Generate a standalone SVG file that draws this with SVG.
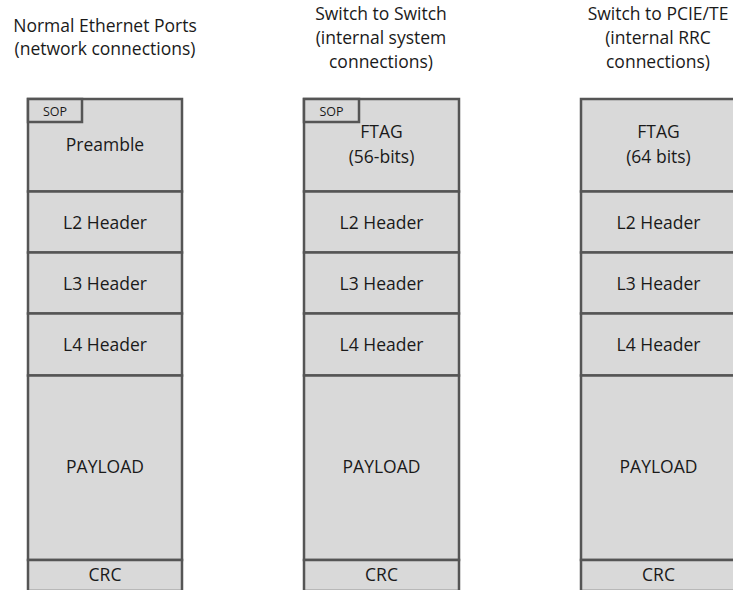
<svg xmlns="http://www.w3.org/2000/svg" width="733" height="590" viewBox="0 0 733 590">
<style>
.t{font-family:"Open Sans","Liberation Sans",sans-serif;font-size:17.5px;fill:#1a1a1a;text-anchor:middle}
.s{font-family:"Open Sans","Liberation Sans",sans-serif;font-size:12.5px;fill:#1a1a1a;text-anchor:middle}
.c{fill:#d9d9d9;stroke:#555;stroke-width:2.5}
</style>
<rect width="733" height="590" fill="#fff"/>
<g id="title1">
<text class="t" x="105" y="31.5">Normal Ethernet Ports</text>
<text class="t" x="105" y="55">(network connections)</text>
</g>
<g id="title2">
<text class="t" x="381" y="19.5">Switch to Switch</text>
<text class="t" x="381" y="44">(internal system</text>
<text class="t" x="381" y="68">connections)</text>
</g>
<g id="title3">
<text class="t" x="658" y="19.5">Switch to PCIE/TE</text>
<text class="t" x="658" y="44">(internal RRC</text>
<text class="t" x="658" y="68">connections)</text>
</g>
<g id="col1">
<rect class="c" x="28" y="99" width="154" height="92.5"/>
<rect class="c" x="28" y="99" width="54" height="23"/>
<text class="s" x="55" y="115.5">SOP</text>
<text class="t" x="105" y="151">Preamble</text>
<rect class="c" x="28" y="191.5" width="154" height="61"/>
<text class="t" x="105" y="229">L2 Header</text>
<rect class="c" x="28" y="252.5" width="154" height="61"/>
<text class="t" x="105" y="289.5">L3 Header</text>
<rect class="c" x="28" y="313.5" width="154" height="62"/>
<text class="t" x="105" y="351">L4 Header</text>
<rect class="c" x="28" y="375.5" width="154" height="184.5"/>
<text class="t" x="105" y="473">PAYLOAD</text>
<rect class="c" x="28" y="560" width="154" height="31"/>
<text class="t" x="105" y="581">CRC</text>
</g>
<g id="col2">
<rect class="c" x="304" y="99" width="155" height="92.5"/>
<rect class="c" x="304" y="99" width="55" height="23"/>
<text class="s" x="331.5" y="115.5">SOP</text>
<text class="t" x="381.5" y="138">FTAG</text>
<text class="t" x="381.5" y="162.5">(56-bits)</text>
<rect class="c" x="304" y="191.5" width="155" height="61"/>
<text class="t" x="381.5" y="229">L2 Header</text>
<rect class="c" x="304" y="252.5" width="155" height="61"/>
<text class="t" x="381.5" y="289.5">L3 Header</text>
<rect class="c" x="304" y="313.5" width="155" height="62"/>
<text class="t" x="381.5" y="351">L4 Header</text>
<rect class="c" x="304" y="375.5" width="155" height="184.5"/>
<text class="t" x="381.5" y="473">PAYLOAD</text>
<rect class="c" x="304" y="560" width="155" height="31"/>
<text class="t" x="381.5" y="581">CRC</text>
</g>
<g id="col3">
<rect class="c" x="581" y="99" width="155" height="92.5"/>
<text class="t" x="658.5" y="138">FTAG</text>
<text class="t" x="658.5" y="162.5">(64 bits)</text>
<rect class="c" x="581" y="191.5" width="155" height="61"/>
<text class="t" x="658.5" y="229">L2 Header</text>
<rect class="c" x="581" y="252.5" width="155" height="61"/>
<text class="t" x="658.5" y="289.5">L3 Header</text>
<rect class="c" x="581" y="313.5" width="155" height="62"/>
<text class="t" x="658.5" y="351">L4 Header</text>
<rect class="c" x="581" y="375.5" width="155" height="184.5"/>
<text class="t" x="658.5" y="473">PAYLOAD</text>
<rect class="c" x="581" y="560" width="155" height="31"/>
<text class="t" x="658.5" y="581">CRC</text>
</g>
<g id="connectors"></g>
</svg>
